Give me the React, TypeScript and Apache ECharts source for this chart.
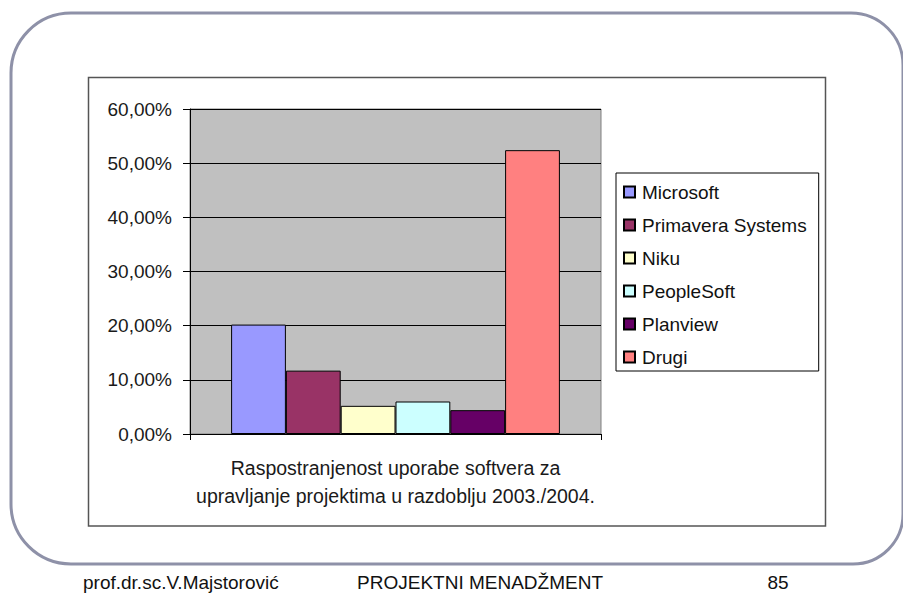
import React, { useEffect, useRef } from "react";
import * as echarts from "echarts";

const categories = [""];
const seriesNames = ["Microsoft", "Primavera Systems", "Niku", "PeopleSoft", "Planview", "Drugi"];
const seriesValues = [20.2, 11.7, 5.2, 6.0, 4.4, 52.4];
const seriesColors = ["#9999FF", "#993366", "#FFFFCC", "#CCFFFF", "#660066", "#FF8080"];
const yTicks = [0, 10, 20, 30, 40, 50, 60];
const axisTitle = "Raspostranjenost uporabe softvera za\nupravljanje projektima u razdoblju 2003./2004.";
const footerLeft = "prof.dr.sc.V.Majstorović";
const footerCenter = "PROJEKTNI MENADŽMENT";
const footerRight = "85";

const FONT = "'Liberation Sans', Arial, Helvetica, sans-serif";

export default function App() {
  const ref = useRef<HTMLDivElement>(null);
  useEffect(() => {
    if (!ref.current) return;
    const chart = echarts.init(ref.current, undefined, { renderer: "svg" });
    const option: any = {
      animation: false,
      backgroundColor: "#ffffff",
      textStyle: { fontFamily: FONT },
      grid: {
        left: 190,
        top: 109,
        width: 411,
        height: 325,
        show: true,
        backgroundColor: "#C0C0C0",
        borderColor: "#808080",
        borderWidth: 1,
      },
      legend: {
        orient: "vertical",
        left: 616,
        top: 173,
        padding: [9, 12, 4, 7],
        itemWidth: 11,
        itemHeight: 11,
        itemGap: 13,
        icon: "rect",
        borderColor: "#000",
        borderWidth: 1,
        backgroundColor: "#ffffff",
        textStyle: {
          fontFamily: FONT,
          fontSize: 19,
          lineHeight: 20,
          color: "#111",
          padding: [0, 0, 0, 2],
        },
        data: seriesNames,
      },
      xAxis: {
        type: "category",
        data: categories,
        axisLine: { lineStyle: { color: "#000", width: 1 } },
        axisTick: { show: true, length: 6, lineStyle: { color: "#000" } },
        axisLabel: { show: false },
        name: axisTitle,
        nameLocation: "middle",
        nameGap: 20,
        nameTextStyle: {
          fontFamily: FONT,
          fontSize: 19.5,
          lineHeight: 28,
          color: "#1a1a1a",
          align: "center",
        },
      },
      yAxis: {
        type: "value",
        min: yTicks[0],
        max: yTicks[yTicks.length - 1],
        interval: 10,
        axisLine: { show: true, lineStyle: { color: "#000", width: 1 } },
        axisTick: { show: true, length: 7, lineStyle: { color: "#000" } },
        splitLine: { show: true, lineStyle: { color: "#000", width: 1 } },
        axisLabel: {
          margin: 18,
          fontFamily: FONT,
          fontSize: 19,
          color: "#1a1a1a",
          padding: [5, 0, 0, 0],
          formatter: (v: number) => v.toFixed(2).replace(".", ",") + "%",
        },
      },
      series: seriesNames.map((name, i) => ({
        name,
        type: "bar",
        data: [seriesValues[i]],
        barGap: "0%",
        barCategoryGap: "20%",
        itemStyle: { color: seriesColors[i], borderColor: "#000", borderWidth: 1 },
      })),
      graphic: [
        {
          type: "rect",
          z: -10,
          shape: { x: 11, y: 13, width: 892, height: 551, r: [60, 52, 50, 60] },
          style: { fill: "none", stroke: "#8E91A8", lineWidth: 3 },
        },
        {
          type: "rect",
          z: -5,
          shape: { x: 88.5, y: 77.5, width: 737, height: 448.5 },
          style: { fill: "none", stroke: "#555", lineWidth: 1.5 },
        },
        {
          type: "text",
          x: 83,
          y: 582,
          style: { text: footerLeft, font: `19px ${FONT}`, fill: "#111", textAlign: "left", textVerticalAlign: "middle" },
        },
        {
          type: "text",
          x: 480,
          y: 582,
          style: { text: footerCenter, font: `19px ${FONT}`, fill: "#111", textAlign: "center", textVerticalAlign: "middle" },
        },
        {
          type: "text",
          x: 778,
          y: 582,
          style: { text: footerRight, font: `19px ${FONT}`, fill: "#111", textAlign: "center", textVerticalAlign: "middle" },
        },
      ],
    };
    chart.setOption(option);
    return () => chart.dispose();
  }, []);
  return (
    <div
      ref={ref}
      style={{ position: "fixed", left: 0, top: 0, width: 903, height: 594, background: "#fff" }}
    />
  );
}
